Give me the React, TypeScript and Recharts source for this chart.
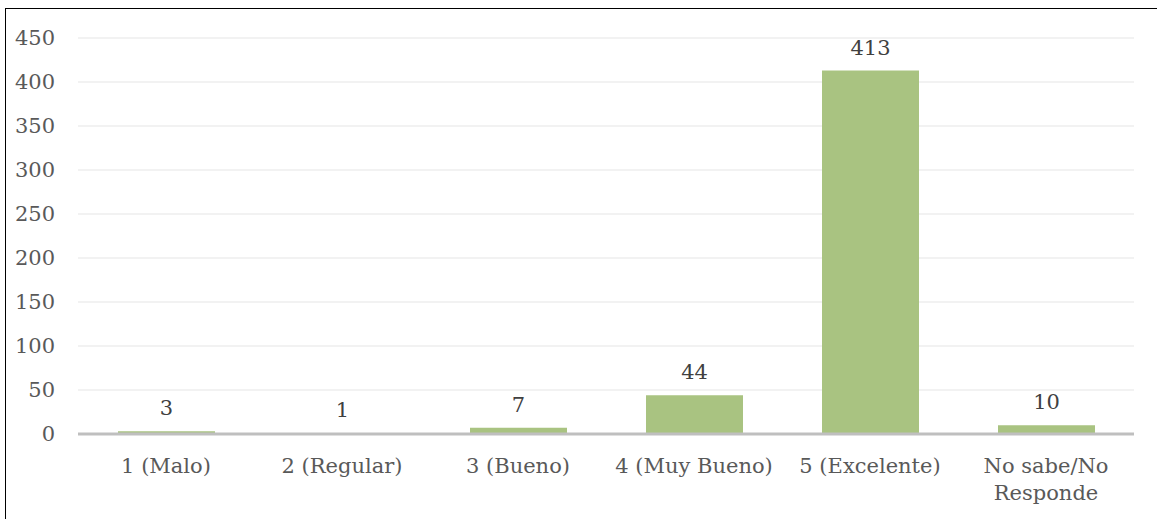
import React from 'react';
import { BarChart, Bar, XAxis, YAxis, CartesianGrid, LabelList } from 'recharts';

const categories = ['1 (Malo)', '2 (Regular)', '3 (Bueno)', '4 (Muy Bueno)', '5 (Excelente)', 'No sabe/No Responde'];
const counts = [3, 1, 7, 44, 413, 10];
const yTicks = [0, 50, 100, 150, 200, 250, 300, 350, 400, 450];

const data = categories.map((name, i) => ({ name, value: counts[i] }));

const FONT = '"DejaVu Serif", serif';
const FONT_SIZE = 21;

// parte la etiqueta en líneas de como mucho 14 caracteres
const wrapLabel = (label: string, max = 14) => {
    const lines: string[] = [];
    let current = '';
    label.split(' ').forEach((word) => {
        const next = current ? `${current} ${word}` : word;
        if (next.length > max && current) {
            lines.push(current);
            current = word;
        } else {
            current = next;
        }
    });
    if (current) lines.push(current);
    return lines;
};

const CategoryTick = (props: any) => {
    const { x, y, payload } = props;
    const lines = wrapLabel(String(payload.value));
    return (
        <text x={x} y={y} textAnchor="middle" fontFamily={FONT} fontSize={FONT_SIZE} fill="#595959">
            {lines.map((line, i) => (
                <tspan key={i} x={x} dy={i === 0 ? 15 : 27}>
                    {line}
                </tspan>
            ))}
        </text>
    );
};

export default function App() {
    return (
        <div style={{ position: 'absolute', left: 0, top: 0, width: 1157, height: 519, background: '#fff', overflow: 'hidden' }}>
            <div style={{ position: 'absolute', left: 5, top: 8, width: 1200, height: 600, border: '1.5px solid #000', boxSizing: 'border-box' }} />
            <div style={{ position: 'absolute', left: 0, top: 0 }}>
                <BarChart width={1157} height={519} data={data} margin={{ top: 38, right: 23, left: 0, bottom: 0 }}>
                    <CartesianGrid vertical={false} stroke="#EEEEEE" strokeWidth={1.5} />
                    <XAxis
                        dataKey="name"
                        height={85}
                        tickLine={false}
                        tickSize={0}
                        tickMargin={24}
                        axisLine={{ stroke: '#BFBFBF', strokeWidth: 3 }}
                        tick={<CategoryTick />}
                        interval={0}
                    />
                    <YAxis
                        width={78}
                        domain={[0, 450]}
                        ticks={yTicks}
                        tickLine={false}
                        axisLine={false}
                        tickSize={0}
                        tickMargin={23}
                        tick={{ fontFamily: FONT, fontSize: FONT_SIZE, fill: '#595959' }}
                    />
                    <Bar dataKey="value" fill="#A9C381" barSize={97} isAnimationActive={false}>
                        <LabelList
                            dataKey="value"
                            position="top"
                            offset={16}
                            style={{ fontFamily: FONT, fontSize: FONT_SIZE, fill: '#404040' }}
                        />
                    </Bar>
                </BarChart>
            </div>
        </div>
    );
}
